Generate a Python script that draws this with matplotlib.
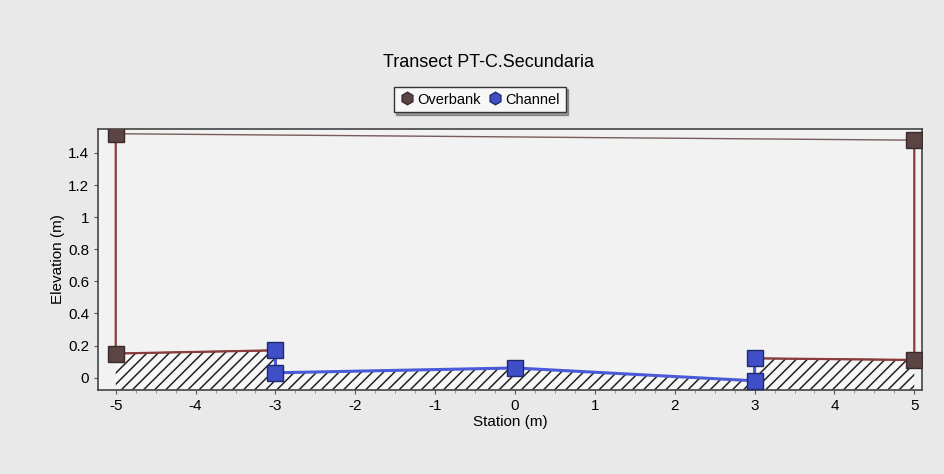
import numpy as np
import matplotlib
matplotlib.use("Agg")
import matplotlib.pyplot as plt
from matplotlib.lines import Line2D

# Data
ground_x = [-5, -3, -3, 0, 3, 3, 5]
ground_y = [0.15, 0.17, 0.03, 0.06, -0.02, 0.12, 0.11]

overbank_left_x = [-5, -5, -3]
overbank_left_y = [1.52, 0.15, 0.17]
overbank_right_x = [3, 5, 5]
overbank_right_y = [0.12, 0.11, 1.48]
overbank_top_x = [-5, 5]
overbank_top_y = [1.52, 1.48]

channel_x = [-3, -3, 0, 3, 3]
channel_y = [0.17, 0.03, 0.06, -0.02, 0.12]

xticks = [-5, -4, -3, -2, -1, 0, 1, 2, 3, 4, 5]
yticks = [0, 0.2, 0.4, 0.6, 0.8, 1, 1.2, 1.4]
ytick_labels = ["0", "0.2", "0.4", "0.6", "0.8", "1", "1.2", "1.4"]

YMIN, YMAX = -0.075, 1.55
OB_LINE = "#8c3b3b"
OB_MARK = "#5b4444"
CH_LINE = "#4a5ad8"
CH_MARK = "#3f4fc8"

plt.rcParams["font.family"] = "Liberation Sans"
plt.rcParams["hatch.linewidth"] = 1.1

fig = plt.figure(figsize=(9.44, 4.74), dpi=100, facecolor="#e9e9e9")
ax = fig.add_axes([0.104, 0.178, 0.873, 0.55], facecolor="#f2f2f2")

# hatched ground
ax.fill_between(ground_x, ground_y, YMIN, facecolor="#f7f7f7", edgecolor="#222222",
                hatch="///", linewidth=0, zorder=1)
ax.plot(ground_x, ground_y, color="#222222", lw=1.0, zorder=2)

# overbank
ax.plot(overbank_left_x, overbank_left_y, color=OB_LINE, lw=1.6, zorder=3)
ax.plot(overbank_right_x, overbank_right_y, color=OB_LINE, lw=1.6, zorder=3)
ax.plot(overbank_left_x[:2], overbank_left_y[:2], ls="none", marker="s", ms=11,
        mfc=OB_MARK, mec="#3a2a2a", zorder=5)
ax.plot(overbank_right_x[1:], overbank_right_y[1:], ls="none", marker="s", ms=11,
        mfc=OB_MARK, mec="#3a2a2a", zorder=5)
ax.plot(overbank_top_x, overbank_top_y, color="#7a5a5a", lw=1.0, zorder=3)

# channel
ax.plot(channel_x, channel_y, color=CH_LINE, lw=2.2, zorder=4)
ax.plot(channel_x, channel_y, ls="none", marker="s", ms=11, mfc=CH_MARK,
        mec="#1f2a6a", zorder=6)

ax.set_xlim(-5.22, 5.1)
ax.set_ylim(YMIN, YMAX)
ax.set_xticks(xticks)
ax.set_xticklabels([str(t) for t in xticks], fontsize=11)
ax.set_yticks(yticks)
ax.set_yticklabels(ytick_labels, fontsize=11)
ax.set_xticks(np.arange(-5, 5.01, 0.25), minor=True)
ax.tick_params(axis="both", which="major", length=3, color="#555555")
ax.tick_params(axis="x", which="minor", length=2, color="#888888")
for s in ax.spines.values():
    s.set_color("#444444")
    s.set_linewidth(1.2)

ax.set_xlabel("Station (m)", fontsize=11, labelpad=2)
ax.set_ylabel("Elevation (m)", fontsize=11, labelpad=2)

fig.text(0.518, 0.868, "Transect PT-C.Secundaria", ha="center", va="center", fontsize=13)

handles = [
    Line2D([], [], ls="none", marker="h", ms=9, mfc=OB_MARK, mec="#3a2a2a"),
    Line2D([], [], ls="none", marker="h", ms=9, mfc=CH_MARK, mec="#1f2a6a"),
]
leg = fig.legend(handles, ["Overbank", "Channel"], loc="center", bbox_to_anchor=(0.508, 0.79),
                 ncol=2, fontsize=10.5, frameon=True, fancybox=False, shadow=True,
                 handletextpad=0.2, columnspacing=0.5, handlelength=1.0,
                 borderpad=0.4, edgecolor="#333333")
leg.get_frame().set_facecolor("#f7f7f7")

fig.savefig("out.png", dpi=100, facecolor=fig.get_facecolor())
